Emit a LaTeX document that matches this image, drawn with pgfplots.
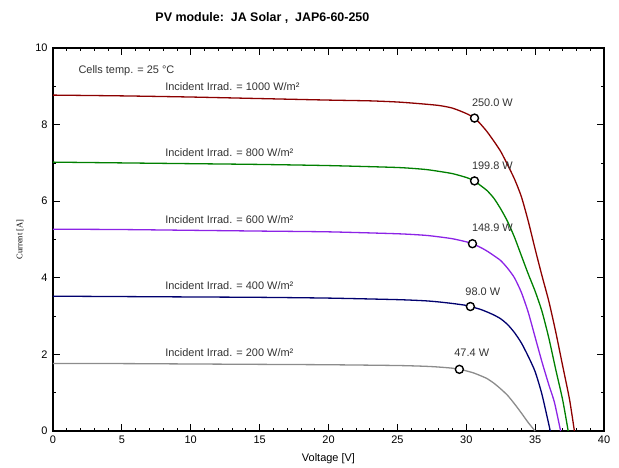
\documentclass[border=0pt]{standalone}
\usepackage{pgfplots}
\pgfplotsset{compat=1.18}
\usepackage{fontspec}
\setmainfont{Liberation Sans}
\newfontfamily\serif{Liberation Serif}

\definecolor{c1000}{RGB}{140,0,0}
\definecolor{c800}{RGB}{0,128,0}
\definecolor{c600}{RGB}{140,35,230}
\definecolor{c400}{RGB}{0,0,110}
\definecolor{c200}{RGB}{140,140,140}

\begin{document}
\begin{tikzpicture}
\begin{axis}[
    scale only axis,
    width=551bp, height=383bp,
    xmin=0, xmax=40, ymin=0, ymax=10,
    xtick={0,5,...,40}, ytick={0,2,...,10},
    minor x tick num=4, minor y tick num=1,
    tick align=inside,
    major tick length=7bp, minor tick length=3.5bp,
    every tick/.style={black, line width=0.8bp},
    axis line style={line width=1.6bp},
    tick label style={font=\fontsize{11}{13}\selectfont},
    /pgf/number format/assume math mode=true,
    xticklabel style={yshift=-1bp},
    yticklabel style={xshift=-2bp},
    xlabel={Voltage [V]},
    xlabel style={at={(axis description cs:0.5,-0.073)}, anchor=center, font=\fontsize{11}{13}\selectfont},
    ylabel={Current [A]},
    ylabel style={at={(axis description cs:-0.06,0.5)}, anchor=center, font=\serif\fontsize{8.5}{10}\selectfont},
    title={PV module:\ \ JA Solar ,\ \ JAP6-60-250},
    title style={at={(axis description cs:0.38,1.062)}, anchor=center, font=\bfseries\fontsize{12.5}{15}\selectfont},
    every axis plot/.append style={line width=1.3bp, smooth, tension=0.4},
    clip=false,
]
% 1000 W/m2
\addplot[c1000] coordinates {
(0,8.77) (5,8.75) (10,8.72) (15,8.68) (20,8.64) (23,8.62) (25,8.59) (26.5,8.55)
(28,8.50) (29,8.43) (30,8.29) (30.6,8.17) (31,8.03) (31.5,7.82) (32,7.57)
(32.5,7.30) (33,6.95) (33.5,6.58) (34,6.12) (34.5,5.48) (35,4.75) (35.5,4.05)
(36,3.38) (36.5,2.58) (37,1.70) (37.5,0.82) (37.85,0)};
% 800 W/m2
\addplot[c800] coordinates {
(0,7.02) (5,7.00) (10,6.98) (15,6.96) (20,6.93) (25,6.88) (27,6.83) (28,6.78)
(29,6.72) (30,6.62) (30.6,6.53) (31,6.42) (31.5,6.28) (32,6.08) (32.5,5.80)
(33,5.47) (33.5,5.06) (34,4.58) (34.5,4.10) (35,3.65) (35.5,3.12) (36,2.42)
(36.5,1.60) (37,0.81) (37.4,0)};
% 600 W/m2
\addplot[c600] coordinates {
(0,5.27) (5,5.26) (10,5.24) (15,5.22) (20,5.20) (25,5.15) (27,5.11) (28,5.07)
(29,5.02) (30,4.94) (30.45,4.89) (31,4.80) (31.5,4.70) (32,4.58) (32.5,4.45)
(33,4.25) (33.5,4.00) (34,3.62) (34.5,3.10) (35,2.45) (35.5,1.80) (36,1.20)
(36.4,0.75) (36.85,0)};
% 400 W/m2
\addplot[c400] coordinates {
(0,3.52) (5,3.51) (10,3.50) (15,3.49) (20,3.47) (25,3.43) (27,3.40) (28,3.37)
(29,3.33) (30,3.28) (30.3,3.25) (31,3.18) (31.5,3.11) (32,3.03) (32.5,2.93)
(33,2.78) (33.5,2.57) (34,2.30) (34.5,1.95) (35,1.55) (35.5,0.95) (36.1,0)};
% 200 W/m2
\addplot[c200] coordinates {
(0,1.76) (5,1.76) (10,1.75) (15,1.74) (20,1.73) (25,1.71) (27,1.69) (28,1.67)
(29,1.64) (29.5,1.61) (30,1.57) (30.5,1.52) (31,1.45) (31.5,1.37) (32,1.25)
(32.5,1.10) (33,0.93) (33.5,0.71) (34,0.47) (34.5,0.22) (35,0)};
% maximum power points
\addplot[only marks, mark=*, mark size=4bp, mark options={fill=white, draw=black, line width=1.4bp}]
coordinates {(30.6,8.17) (30.6,6.53) (30.45,4.89) (30.3,3.25) (29.5,1.61)};

\begin{scope}[every node/.style={font=\fontsize{11}{13}\selectfont, text=black!80}]
\node[anchor=west] at (axis cs:1.6,9.4) {Cells temp. = 25 °C};
\node[anchor=west] at (axis cs:7.9,9.0) {Incident Irrad. = 1000 W/m²};
\node[anchor=west] at (axis cs:7.9,7.26) {Incident Irrad. = 800 W/m²};
\node[anchor=west] at (axis cs:7.9,5.51) {Incident Irrad. = 600 W/m²};
\node[anchor=west] at (axis cs:7.9,3.79) {Incident Irrad. = 400 W/m²};
\node[anchor=west] at (axis cs:7.9,2.06) {Incident Irrad. = 200 W/m²};
\node at (axis cs:31.9,8.56) {250.0 W};
\node at (axis cs:31.9,6.92) {199.8 W};
\node at (axis cs:31.9,5.30) {148.9 W};
\node at (axis cs:31.2,3.63) {98.0 W};
\node at (axis cs:30.4,2.04) {47.4 W};
\end{scope}
\end{axis}
\path (current axis.south west) ++(-53bp,-35bp) rectangle ([xshift=15bp,yshift=48bp]current axis.north east);
\end{tikzpicture}
\end{document}
